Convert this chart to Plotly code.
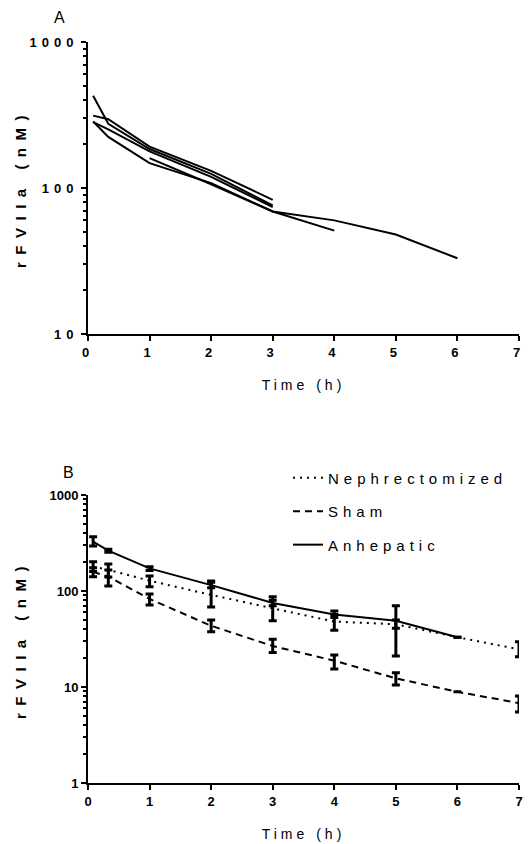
import plotly.graph_objects as go

# ---------------- Panel A data (individual animals) ----------------
time_a = [0.083, 0.33, 1, 2, 3, 4, 5, 6]
animal_1 = [428, 275, 185, 125, 76, None, None, None]
animal_2 = [313, 296, 192, 131, 83, None, None, None]
animal_3 = [285, 224, 148, 108, 69, 60, 48, 33]
animal_4 = [283, 252, 178, 119, 74, None, None, None]
animal_5 = [None, None, 160, 106, 69, 51, None, None]
animals = [animal_1, animal_2, animal_3, animal_4, animal_5]

# ---------------- Panel B data (group means with error bars) ----------------
time_b = [0.083, 0.33, 1, 2, 3, 4, 5, 6, 7]
neph_mean = [180, 166, 128, 91, 66, 48, 45, 33, 24.7]
neph_hi = [202, 191, 143, 127, 87, 57, 50, None, 29.6]
neph_lo = [160, 140, 111, 68, 49, 39, 41, None, 20.7]

sham_mean = [158, 141, 82.6, 43.4, 26.7, 18.8, 12.3, 8.9, 6.8]
sham_hi = [175, 165, 93, 50, 31.4, 21.5, 14.1, None, 8.05]
sham_lo = [141, 113, 71.5, 37.7, 22.8, 15.4, 10.5, None, 5.5]

time_anh = [0.083, 0.33, 1, 2, 3, 4, 5, 6]
anh_mean = [327, 263, 172, 115, 75, 57, 49, 33]
anh_hi = [368, 272, 179, 123, 80, 62, 70, None]
anh_lo = [294, 253, 163, 108, 70, 53, 21, None]

x_ticks = [0, 1, 2, 3, 4, 5, 6, 7]
y_ticks_a = [10, 100, 1000]
y_ticks_b = [1, 10, 100, 1000]

FONT = "Liberation Sans, Arial, sans-serif"


def err(mean, hi, lo):
    plus = [None if h is None else h - m for m, h in zip(mean, hi)]
    minus = [None if l is None else m - l for m, l in zip(mean, lo)]
    return plus, minus


fig = go.Figure()

for vals in animals:
    fig.add_trace(go.Scatter(
        x=time_a, y=vals, mode="lines", xaxis="x", yaxis="y",
        line=dict(color="black", width=2), showlegend=False,
        hoverinfo="skip", connectgaps=False))

series = [
    ("Nephrectomized", time_b, neph_mean, neph_hi, neph_lo, "2px,5px"),
    ("Sham", time_b, sham_mean, sham_hi, sham_lo, "7px,5px"),
    ("Anhepatic", time_anh, anh_mean, anh_hi, anh_lo, "solid"),
]
for i, (name, t, m, hi, lo, dash) in enumerate(series):
    plus, minus = err(m, hi, lo)
    fig.add_trace(go.Scatter(
        x=t, y=m, mode="lines", name=name, xaxis="x2", yaxis="y2",
        line=dict(color="black", width=2, dash=dash),
        error_y=dict(type="data", array=plus, arrayminus=minus, symmetric=False,
                     color="black", thickness=3, width=4),
        cliponaxis=False, legendgroup=name, legendrank=i + 1))

axis_common = dict(
    showline=True, linecolor="black", linewidth=2, ticks="outside",
    ticklen=5, tickwidth=2, tickcolor="black", showgrid=False, zeroline=False,
    automargin=False,
    tickfont=dict(family=FONT, size=13, color="black", weight="bold"),
)
minor_log = dict(ticks="outside", ticklen=3, tickwidth=2, tickcolor="black",
                 dtick="D1", showgrid=False)
ytitle = dict(text="rFVIIa (nM)", font=dict(family=FONT, size=15, weight="bold"),
              standoff=19)
xtitle = dict(text="Time (h)", font=dict(family=FONT, size=14), standoff=22)

# the page body adds an 8 px offset, so the figure is 8 px smaller and margins shifted
fig.update_layout(
    width=524, height=836,
    margin=dict(l=80, r=13, t=34, b=61),
    plot_bgcolor="white", paper_bgcolor="white",
    font=dict(family=FONT, color="black"),
    xaxis=dict(axis_common, domain=[0, 1], anchor="y", range=[0, 7],
               tickvals=x_ticks, title=xtitle),
    yaxis=dict(axis_common, domain=[0.606, 1.0], anchor="x", type="log",
               range=[1, 3], tickvals=y_ticks_a, minor=minor_log, title=ytitle),
    xaxis2=dict(axis_common, domain=[0, 1], anchor="y2", range=[0, 7],
                tickvals=x_ticks, title=xtitle),
    yaxis2=dict(axis_common, domain=[0, 0.3887], anchor="x2", type="log",
                range=[0, 3], tickvals=y_ticks_b, minor=minor_log, title=ytitle),
    legend=dict(x=0.464, y=0.434, xanchor="left", yanchor="top",
                bgcolor="rgba(0,0,0,0)", font=dict(family=FONT, size=15, color="black"),
                itemwidth=30, tracegroupgap=11, traceorder="grouped"),
    annotations=[
        dict(text="A", x=-0.065, y=1.0459, xref="paper", yref="paper", showarrow=False,
             font=dict(family=FONT, size=16), xanchor="center", yanchor="top",
             borderpad=0),
        dict(text="B", x=-0.046, y=0.4197, xref="paper", yref="paper", showarrow=False,
             font=dict(family=FONT, size=16), xanchor="center", yanchor="middle"),
    ],
)

post = """
var gd = document.getElementById('{plot_id}');
function spaceText(){
  gd.querySelectorAll('.xtick text, .ytick text').forEach(function(t){t.setAttribute('letter-spacing','5px');});
  gd.querySelectorAll('.xtitle, .x2title').forEach(function(t){t.setAttribute('letter-spacing','4px');});
  gd.querySelectorAll('.ytitle, .y2title').forEach(function(t){t.setAttribute('letter-spacing','7.5px');});
  gd.querySelectorAll('.legendtext').forEach(function(t){t.setAttribute('letter-spacing','5px');});
  gd.querySelectorAll('.legend .scrollbox').forEach(function(e){e.removeAttribute('clip-path');});
  gd.querySelectorAll('.legend').forEach(function(e){e.style.overflow='visible';});
}
spaceText();
"""

fig.write_html("out.html", post_script=post)
